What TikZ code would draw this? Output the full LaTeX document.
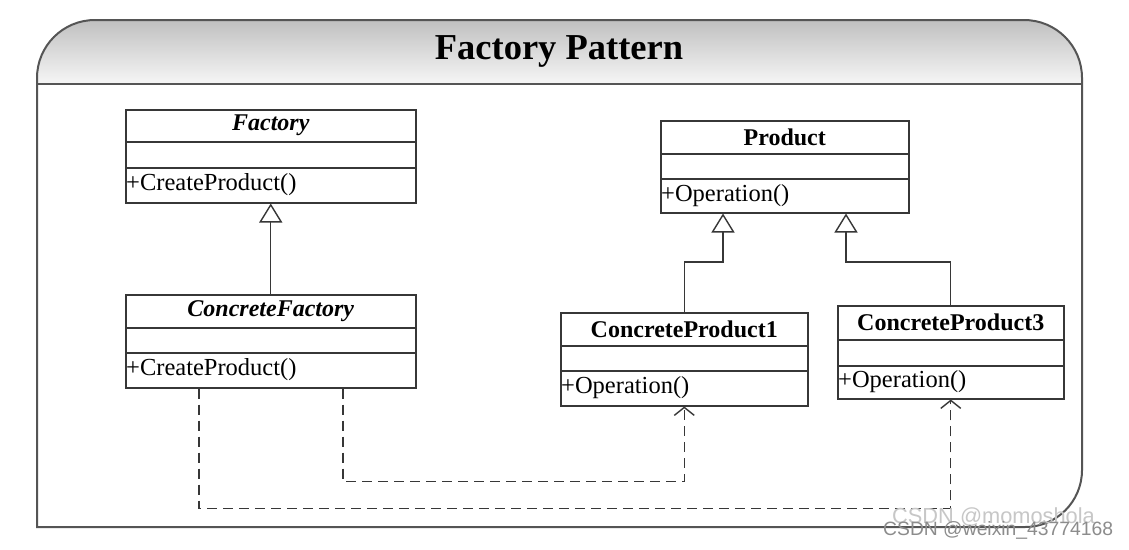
\documentclass[tikz,border=0pt]{standalone}
\usepackage{fontspec}
\setmainfont{Liberation Serif}
\newfontfamily\wmfont{Liberation Sans}
\usetikzlibrary{arrows.meta,calc}
\definecolor{linec}{RGB}{55,55,55}
\definecolor{framec}{RGB}{85,85,85}
\definecolor{headtop}{RGB}{192,192,192}
\definecolor{headbot}{RGB}{246,246,246}
\newcommand{\umlclass}[9]{%
  % #1 name, #2 x, #3 y, #4 width, #5 h1, #6 h2, #7 total height, #8 title, #9 method
  \node[classbox, minimum width=#4pt, minimum height=#7pt] (#1) at (#2,#3) {};
  \draw[classline] ([yshift=-#5pt]#1.north west) -- ([yshift=-#5pt]#1.north east);
  \draw[classline] ([yshift=-#6pt]#1.north west) -- ([yshift=-#6pt]#1.north east);
  \node[font=\fontsize{24}{28}\selectfont\bfseries] (#1-t) at ($(#1.north)+(0,#5/2)$) {#8};
  \node[font=\fontsize{24.5}{28}\selectfont, anchor=west, inner sep=0pt] (#1-m) at ($(#1.north west)+(1,#6/2+#7/2)$) {#9};
}
\tikzset{
  classbox/.style={draw=linec, line width=1.5pt, anchor=north west, inner sep=0pt, fill=white},
  classline/.style={draw=linec, line width=1.5pt},
  inh/.style={draw=linec, line width=1.4pt, -{Triangle[open, length=19pt, width=23pt, line width=1.4pt]}},
  dep/.style={draw=linec, line width=1.4pt, dash pattern=on 10pt off 6pt, -{Straight Barb[length=8pt, width=20pt, line width=1.4pt]}},
  frameline/.style={draw=framec, line width=2pt},
}
\begin{document}
\begin{tikzpicture}[x=1pt, y=-1pt]
\useasboundingbox[fill=white] (0,0) rectangle (1129,549);
% header shading
\shade[top color=headtop, bottom color=headbot]
  (37,84) -- (37,78) to[out=90,in=180] (95,20) -- (1024,20) to[out=0,in=90] (1082,78) -- (1082,84) -- cycle;
% frame
\draw[frameline]
  (37,527) -- (37,78) to[out=90,in=180] (95,20) -- (1024,20) to[out=0,in=90] (1082,78)
  -- (1082,470) to[out=-90,in=0] (1025,527) -- cycle;
\draw[frameline] (37,84) -- (1082,84);
\node[font=\fontsize{36.5}{40}\selectfont\bfseries] (title) at (559,51) {Factory Pattern};

% classes
\node[classbox, minimum width=290pt, minimum height=93pt] (fac) at (125,109) {};
\draw[classline] ([yshift=-33pt]fac.north west) -- ([yshift=-33pt]fac.north east);
\draw[classline] ([yshift=-59pt]fac.north west) -- ([yshift=-59pt]fac.north east);
\node[font=\fontsize{24}{28}\selectfont\bfseries\itshape] (fac-t) at ($(fac.north)+(0,16.5)$) {Factory};
\node[font=\fontsize{24.5}{28}\selectfont, anchor=west, inner sep=0pt] (fac-m) at ($(fac.north west)+(1,76)$) {+CreateProduct()};

\node[classbox, minimum width=290pt, minimum height=93pt] (cf) at (125,294) {};
\draw[classline] ([yshift=-34pt]cf.north west) -- ([yshift=-34pt]cf.north east);
\draw[classline] ([yshift=-59pt]cf.north west) -- ([yshift=-59pt]cf.north east);
\node[font=\fontsize{24}{28}\selectfont\bfseries\itshape] (cf-t) at ($(cf.north)+(0,17)$) {ConcreteFactory};
\node[font=\fontsize{24.5}{28}\selectfont, anchor=west, inner sep=0pt] (cf-m) at ($(cf.north west)+(1,76)$) {+CreateProduct()};

\umlclass{prod}{660}{120}{248}{34}{59}{92}{Product}{+Operation()}
\umlclass{cp1}{560}{312}{247}{34}{59}{93}{ConcreteProduct1}{+Operation()}
\umlclass{cp3}{837}{305}{226}{35}{61}{93}{ConcreteProduct3}{+Operation()}

% inheritance
\draw[inh] (cf.north) -- (fac.south);
\coordinate (p1) at ([xshift=63pt]prod.south west);
\coordinate (p2) at ([xshift=186pt]prod.south west);
\draw[inh] (cp1.north) -- ++(0,-50) -| (p1);
\draw[inh] (cp3.north) -- ++(0,-43) -| (p2);

% dependencies
\draw[dep] ([xshift=218pt]cf.south west) -- ++(0,93) -| (cp1.south);
\draw[dep] ([xshift=74pt]cf.south west) -- ++(0,120) -| (cp3.south);

% watermarks
\node[font=\wmfont\fontsize{21.8}{24}\selectfont, text=black!22, anchor=west, inner sep=0pt] (wm1) at (892,517) {CSDN @momoshola};
\node[font=\wmfont\fontsize{19.3}{22}\selectfont, text=black!45, anchor=west, inner sep=0pt] (wm2) at (883,530) {CSDN @weixin\_43774168};
\end{tikzpicture}
\end{document}
